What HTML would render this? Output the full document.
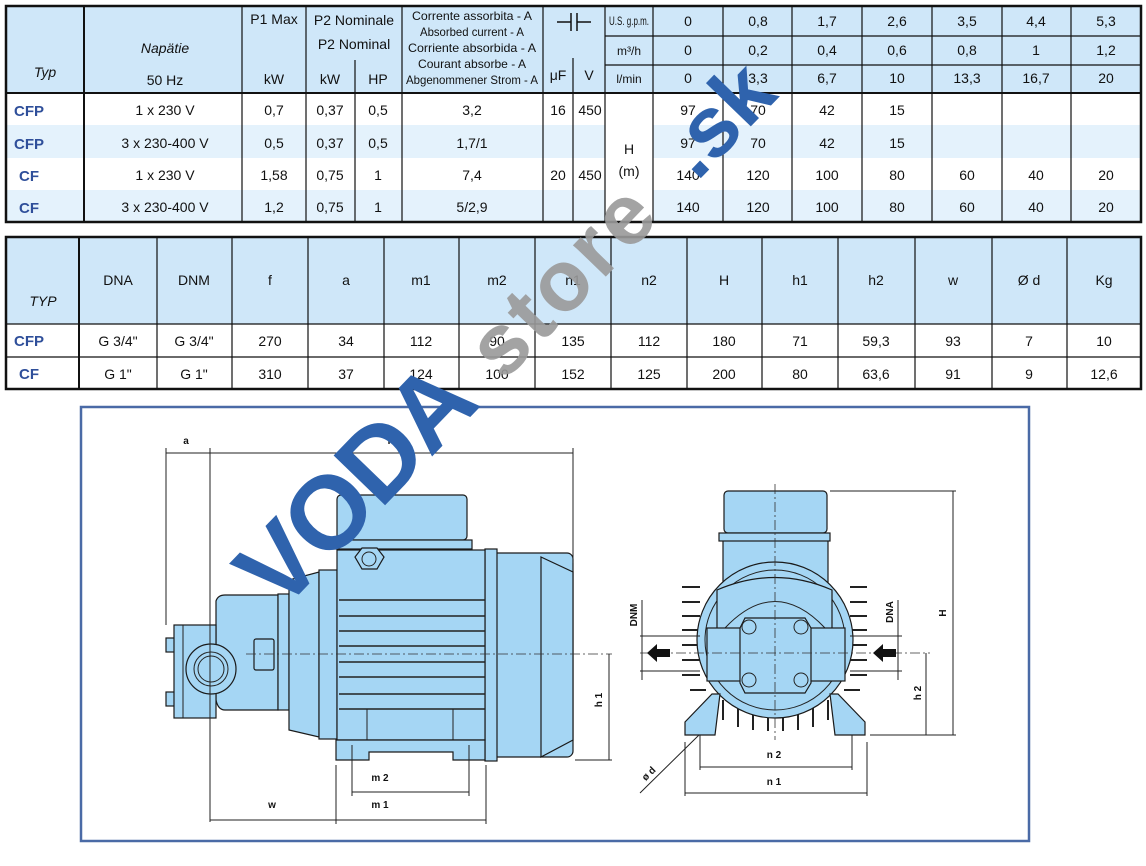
<!DOCTYPE html>
<html><head><meta charset="utf-8"><style>
html,body{margin:0;padding:0;background:#fff;width:1146px;height:866px;overflow:hidden}
svg{display:block}
.t{font-family:"Liberation Sans",sans-serif;font-size:14px;fill:#111;text-anchor:middle}
.h{font-family:"Liberation Sans",sans-serif;font-size:14px;fill:#111;text-anchor:middle}
.s{font-family:"Liberation Sans",sans-serif;font-size:12px;fill:#111;text-anchor:middle}
.ty{font-family:"Liberation Sans",sans-serif;font-size:15px;font-weight:bold;fill:#2f4f9a;text-anchor:middle}
.d{font-family:"Liberation Sans",sans-serif;font-size:10px;font-weight:bold;fill:#111;text-anchor:middle}
.p{fill:#a5d6f4;stroke:#1a1a1a;stroke-width:1.2}
.l{stroke:#222;stroke-width:1;fill:none}
.c{stroke:#333;stroke-width:0.8;fill:none;stroke-dasharray:10 3 2 3}
</style></head><body>
<svg width="1146" height="866" viewBox="0 0 1146 866" xmlns="http://www.w3.org/2000/svg">
<!-- TABLE 1 -->
<rect x="6" y="6" width="1135" height="87" fill="#cfe7f9"/>
<rect x="6" y="125" width="1135" height="33" fill="#e4f2fc"/>
<rect x="6" y="190" width="1135" height="32" fill="#e4f2fc"/>
<rect x="605" y="93" width="48" height="129" fill="#fff"/>
<g stroke="#111" stroke-width="1.2">
<line x1="84" y1="6" x2="84" y2="222" stroke-width="2"/>
<line x1="242" y1="6" x2="242" y2="222"/>
<line x1="306" y1="6" x2="306" y2="222"/>
<line x1="355" y1="60" x2="355" y2="222"/>
<line x1="402" y1="6" x2="402" y2="222"/>
<line x1="543" y1="6" x2="543" y2="222"/>
<line x1="573" y1="58" x2="573" y2="222"/>
<line x1="605" y1="6" x2="605" y2="222"/>
<line x1="653" y1="6" x2="653" y2="222"/>
<line x1="723" y1="6" x2="723" y2="222"/><line x1="792" y1="6" x2="792" y2="222"/><line x1="862" y1="6" x2="862" y2="222"/><line x1="932" y1="6" x2="932" y2="222"/><line x1="1002" y1="6" x2="1002" y2="222"/><line x1="1071" y1="6" x2="1071" y2="222"/>
<line x1="605" y1="36" x2="1141" y2="36"/><line x1="605" y1="65" x2="1141" y2="65"/>
<line x1="6" y1="93" x2="1141" y2="93" stroke-width="2"/>
<rect x="6" y="6" width="1135" height="216" fill="none" stroke-width="2.5"/>
</g>
<text class="h" x="45" y="77" font-style="italic">Typ</text>
<text class="h" x="165" y="53" font-style="italic" font-size="16">Napätie</text>
<text class="h" x="165" y="85">50 Hz</text>
<text class="h" x="274" y="24">P1 Max</text><text class="h" x="274" y="84">kW</text>
<text class="h" x="354" y="25">P2 Nominale</text><text class="h" x="354" y="49">P2 Nominal</text>
<text class="h" x="330" y="84">kW</text><text class="h" x="378" y="84">HP</text>
<g class="s">
<text x="472" y="20" textLength="120" lengthAdjust="spacingAndGlyphs">Corrente assorbita - A</text>
<text x="472" y="36" textLength="104" lengthAdjust="spacingAndGlyphs">Absorbed current - A</text>
<text x="472" y="52" textLength="128" lengthAdjust="spacingAndGlyphs">Corriente absorbida - A</text>
<text x="472" y="68" textLength="108" lengthAdjust="spacingAndGlyphs">Courant absorbe - A</text>
<text x="472" y="84" textLength="132" lengthAdjust="spacingAndGlyphs">Abgenommener Strom - A</text></g>
<g stroke="#111" stroke-width="1.5"><line x1="557" y1="22" x2="571" y2="22"/><line x1="571" y1="13" x2="571" y2="31"/><line x1="577" y1="13" x2="577" y2="31"/><line x1="577" y1="22" x2="591" y2="22"/></g>
<text class="h" x="558" y="80">μF</text><text class="h" x="589" y="80">V</text>
<text class="s" x="629" y="25" font-size="10" textLength="40" lengthAdjust="spacingAndGlyphs">U.S. g.p.m.</text><text class="s" x="629" y="55">m³/h</text><text class="s" x="629" y="83">l/min</text>
<g class="t">
<text x="688" y="26">0</text><text x="758" y="26">0,8</text><text x="827" y="26">1,7</text><text x="897" y="26">2,6</text><text x="967" y="26">3,5</text><text x="1036" y="26">4,4</text><text x="1106" y="26">5,3</text>
<text x="688" y="55">0</text><text x="758" y="55">0,2</text><text x="827" y="55">0,4</text><text x="897" y="55">0,6</text><text x="967" y="55">0,8</text><text x="1036" y="55">1</text><text x="1106" y="55">1,2</text>
<text x="688" y="83">0</text><text x="758" y="83">3,3</text><text x="827" y="83">6,7</text><text x="897" y="83">10</text><text x="967" y="83">13,3</text><text x="1036" y="83">16,7</text><text x="1106" y="83">20</text>
</g>
<g class="ty"><text x="29" y="116">CFP</text><text x="29" y="149">CFP</text><text x="29" y="181">CF</text><text x="29" y="213">CF</text></g>
<g class="t">
<text x="165" y="115">1 x 230 V</text><text x="274" y="115">0,7</text><text x="330" y="115">0,37</text><text x="378" y="115">0,5</text><text x="472" y="115">3,2</text><text x="558" y="115">16</text><text x="590" y="115">450</text>
<text x="688" y="115">97</text><text x="758" y="115">70</text><text x="827" y="115">42</text><text x="897" y="115">15</text>
<text x="165" y="148">3 x 230-400 V</text><text x="274" y="148">0,5</text><text x="330" y="148">0,37</text><text x="378" y="148">0,5</text><text x="472" y="148">1,7/1</text>
<text x="688" y="148">97</text><text x="758" y="148">70</text><text x="827" y="148">42</text><text x="897" y="148">15</text>
<text x="165" y="180">1 x 230 V</text><text x="274" y="180">1,58</text><text x="330" y="180">0,75</text><text x="378" y="180">1</text><text x="472" y="180">7,4</text><text x="558" y="180">20</text><text x="590" y="180">450</text>
<text x="688" y="180">140</text><text x="758" y="180">120</text><text x="827" y="180">100</text><text x="897" y="180">80</text><text x="967" y="180">60</text><text x="1036" y="180">40</text><text x="1106" y="180">20</text>
<text x="165" y="212">3 x 230-400 V</text><text x="274" y="212">1,2</text><text x="330" y="212">0,75</text><text x="378" y="212">1</text><text x="472" y="212">5/2,9</text>
<text x="688" y="212">140</text><text x="758" y="212">120</text><text x="827" y="212">100</text><text x="897" y="212">80</text><text x="967" y="212">60</text><text x="1036" y="212">40</text><text x="1106" y="212">20</text>
</g>
<text class="h" x="629" y="154" font-size="15">H</text><text class="h" x="629" y="176" font-size="15">(m)</text>

<!-- TABLE 2 -->
<rect x="6" y="237" width="1135" height="87" fill="#cfe7f9"/>
<g stroke="#111" stroke-width="1.2">
<line x1="79" y1="237" x2="79" y2="389" stroke-width="2"/>
<line x1="157" y1="237" x2="157" y2="389"/><line x1="232" y1="237" x2="232" y2="389"/><line x1="308" y1="237" x2="308" y2="389"/><line x1="384" y1="237" x2="384" y2="389"/><line x1="459" y1="237" x2="459" y2="389"/><line x1="535" y1="237" x2="535" y2="389"/><line x1="611" y1="237" x2="611" y2="389"/><line x1="687" y1="237" x2="687" y2="389"/><line x1="762" y1="237" x2="762" y2="389"/><line x1="838" y1="237" x2="838" y2="389"/><line x1="915" y1="237" x2="915" y2="389"/><line x1="992" y1="237" x2="992" y2="389"/><line x1="1067" y1="237" x2="1067" y2="389"/>
<line x1="6" y1="324" x2="1141" y2="324"/><line x1="6" y1="357" x2="1141" y2="357"/>
<rect x="6" y="237" width="1135" height="152" fill="none" stroke-width="2.5"/>
</g>
<text class="h" x="43" y="306" font-style="italic">TYP</text>
<g class="h"><text x="118" y="285">DNA</text><text x="194" y="285">DNM</text><text x="270" y="285">f</text><text x="346" y="285">a</text><text x="421" y="285">m1</text><text x="497" y="285">m2</text><text x="573" y="285">n1</text><text x="649" y="285">n2</text><text x="724" y="285">H</text><text x="800" y="285">h1</text><text x="876" y="285">h2</text><text x="953" y="285">w</text><text x="1029" y="285">Ø d</text><text x="1104" y="285">Kg</text></g>
<g class="ty"><text x="29" y="346">CFP</text><text x="29" y="379">CF</text></g>
<g class="t">
<text x="118" y="346">G 3/4"</text><text x="194" y="346">G 3/4"</text><text x="270" y="346">270</text><text x="346" y="346">34</text><text x="421" y="346">112</text><text x="497" y="346">90</text><text x="573" y="346">135</text><text x="649" y="346">112</text><text x="724" y="346">180</text><text x="800" y="346">71</text><text x="876" y="346">59,3</text><text x="953" y="346">93</text><text x="1029" y="346">7</text><text x="1104" y="346">10</text>
<text x="118" y="379">G 1"</text><text x="194" y="379">G 1"</text><text x="270" y="379">310</text><text x="346" y="379">37</text><text x="421" y="379">124</text><text x="497" y="379">100</text><text x="573" y="379">152</text><text x="649" y="379">125</text><text x="724" y="379">200</text><text x="800" y="379">80</text><text x="876" y="379">63,6</text><text x="953" y="379">91</text><text x="1029" y="379">9</text><text x="1104" y="379">12,6</text>
</g>

<!-- DRAWING BOX -->
<rect x="81" y="407" width="948" height="434" fill="none" stroke="#4a6aa6" stroke-width="2.5"/>

<!-- side view -->
<rect class="p" x="487" y="553" width="86" height="204" rx="6"/>
<path class="p" d="M541 557 L573 572 L573 740 L541 757 Z"/>
<rect class="p" x="485" y="549" width="12" height="212"/>
<rect class="p" x="166" y="638" width="10" height="14"/><rect class="p" x="166" y="692" width="10" height="14"/>
<path class="p" d="M216 601 Q218 595 225 595 L278 595 L278 710 L225 710 Q218 710 216 700 Z"/>
<rect class="p" x="174" y="625" width="42" height="93"/>
<line class="l" x1="183" y1="625" x2="183" y2="718"/>
<rect class="p" x="278" y="594" width="11" height="116"/>
<path class="p" d="M289 580 L319 572 L319 737 L289 730 Z"/>
<rect class="p" x="319" y="570" width="18" height="169"/>
<rect class="p" x="337" y="550" width="148" height="190"/>
<rect class="p" x="337" y="495" width="130" height="45" rx="4"/>
<rect class="p" x="333" y="540" width="139" height="9"/>
<path class="p" d="M362 548 L377 548 L384 557 L377 569 L362 569 L355 557 Z"/>
<circle class="l" cx="369" cy="559" r="7"/>
<g stroke="#222" stroke-width="1.5"><line x1="339" y1="600" x2="485" y2="600"/><line x1="339" y1="616" x2="485" y2="616"/><line x1="339" y1="631" x2="485" y2="631"/><line x1="339" y1="646" x2="485" y2="646"/><line x1="339" y1="662" x2="485" y2="662"/><line x1="339" y1="677" x2="485" y2="677"/><line x1="339" y1="694" x2="485" y2="694"/><line x1="339" y1="709" x2="485" y2="709"/></g>
<line class="l" x1="367" y1="709" x2="367" y2="740"/><line class="l" x1="453" y1="709" x2="453" y2="740"/>
<path class="p" d="M336 740 L485 740 L485 760 L453 760 L453 752 L369 752 L369 760 L336 760 Z"/>
<circle class="p" cx="211" cy="669" r="25"/><circle class="l" cx="211" cy="669" r="17"/><circle class="l" cx="211" cy="669" r="13"/>
<rect class="p" x="254" y="639" width="20" height="31" rx="2"/>
<line class="c" x1="246" y1="654" x2="612" y2="654"/>
<g class="l" stroke-width="0.8">
<line x1="166" y1="453" x2="573" y2="453"/>
<line x1="166" y1="448" x2="166" y2="625"/><line x1="210" y1="448" x2="210" y2="822"/><line x1="573" y1="448" x2="573" y2="563"/>
<line x1="575" y1="760" x2="612" y2="760"/><line x1="609" y1="654" x2="609" y2="760"/>
<line x1="336" y1="765" x2="336" y2="824"/><line x1="352" y1="745" x2="352" y2="796"/><line x1="469" y1="745" x2="469" y2="796"/><line x1="486" y1="765" x2="486" y2="824"/>
<line x1="352" y1="792" x2="469" y2="792"/><line x1="210" y1="820" x2="486" y2="820"/>
</g>
<text class="d" x="186" y="444">a</text><text class="d" x="389" y="444">f</text>
<text class="d" x="380" y="781">m 2</text><text class="d" x="380" y="808">m 1</text><text class="d" x="272" y="808">w</text>
<text class="d" transform="translate(602,700) rotate(-90)">h 1</text>

<!-- front view -->
<g stroke="#222" stroke-width="2">
<line x1="682" y1="587" x2="700" y2="587"/><line x1="682" y1="602" x2="700" y2="602"/><line x1="682" y1="616" x2="700" y2="616"/><line x1="682" y1="630" x2="700" y2="630"/><line x1="682" y1="645" x2="700" y2="645"/><line x1="682" y1="660" x2="700" y2="660"/><line x1="682" y1="675" x2="700" y2="675"/><line x1="690" y1="690" x2="706" y2="690"/>
<line x1="850" y1="587" x2="867" y2="587"/><line x1="850" y1="602" x2="867" y2="602"/><line x1="850" y1="616" x2="867" y2="616"/><line x1="850" y1="630" x2="867" y2="630"/><line x1="850" y1="645" x2="867" y2="645"/><line x1="850" y1="660" x2="867" y2="660"/><line x1="850" y1="675" x2="867" y2="675"/><line x1="844" y1="690" x2="860" y2="690"/>
<line x1="723" y1="700" x2="723" y2="720"/><line x1="738" y1="705" x2="738" y2="727"/><line x1="753" y1="708" x2="753" y2="730"/><line x1="768" y1="710" x2="768" y2="731"/><line x1="783" y1="710" x2="783" y2="731"/><line x1="798" y1="708" x2="798" y2="730"/><line x1="813" y1="705" x2="813" y2="727"/><line x1="828" y1="700" x2="828" y2="720"/>
</g>
<rect class="p" x="723" y="540" width="105" height="50"/>
<circle class="p" cx="775" cy="640" r="78"/>
<circle class="l" cx="775" cy="640" r="70"/>
<path class="p" d="M685 722 L712 694 L720 694 L715 735 L685 735 Z"/>
<path class="p" d="M865 722 L838 694 L830 694 L835 735 L865 735 Z"/>
<path class="p" d="M717 590 Q775 565 832 590 L832 660 L717 660 Z"/>
<path class="l" d="M725 628 Q775 575 825 628"/>
<rect class="p" x="707" y="628" width="138" height="53"/>
<path class="p" d="M745 618 L805 618 L811 628 L811 683 L805 693 L745 693 L740 683 L740 628 Z"/>
<circle class="l" cx="749" cy="627" r="7"/><circle class="l" cx="801" cy="627" r="7"/><circle class="l" cx="749" cy="680" r="7"/><circle class="l" cx="801" cy="680" r="7"/>
<rect class="p" x="724" y="491" width="103" height="42" rx="4"/>
<rect class="p" x="719" y="533" width="111" height="8"/>
<line class="c" x1="775" y1="484" x2="775" y2="740"/>
<line class="c" x1="640" y1="653" x2="930" y2="653"/>
<path d="M647 653 L657 644 L657 649 L670 649 L670 657 L657 657 L657 662 Z" fill="#111"/>
<path d="M873 653 L883 644 L883 649 L896 649 L896 657 L883 657 L883 662 Z" fill="#111"/>
<g class="l" stroke-width="0.8">
<line x1="640" y1="636" x2="700" y2="636"/><line x1="640" y1="671" x2="700" y2="671"/><line x1="642" y1="600" x2="642" y2="680"/>
<line x1="850" y1="636" x2="902" y2="636"/><line x1="850" y1="671" x2="902" y2="671"/><line x1="898" y1="600" x2="898" y2="680"/>
<line x1="830" y1="491" x2="956" y2="491"/><line x1="953" y1="491" x2="953" y2="735"/>
<line x1="870" y1="735" x2="956" y2="735"/><line x1="926" y1="653" x2="926" y2="735"/>
<line x1="700" y1="735" x2="700" y2="770"/><line x1="852" y1="735" x2="852" y2="770"/><line x1="685" y1="742" x2="685" y2="796"/><line x1="867" y1="742" x2="867" y2="796"/>
<line x1="700" y1="767" x2="852" y2="767"/><line x1="685" y1="793" x2="867" y2="793"/>
<line x1="699" y1="735" x2="640" y2="793"/>
</g>
<text class="d" transform="translate(637,615) rotate(-90)">DNM</text>
<text class="d" transform="translate(893,612) rotate(-90)">DNA</text>
<text class="d" transform="translate(946,613) rotate(-90)">H</text>
<text class="d" transform="translate(921,693) rotate(-90)">h 2</text>
<text class="d" transform="translate(651,776) rotate(-45)">ø d</text>
<text class="d" x="774" y="758">n 2</text><text class="d" x="774" y="785">n 1</text>

<!-- watermark -->
<g transform="translate(280,614) rotate(-46)" font-family="Liberation Sans,sans-serif" font-weight="bold">
<text x="0" y="0" font-size="104" fill="#2f63ad" letter-spacing="-3">VODA</text>
<text x="322" y="0" font-size="86" fill="#9a9a9a" opacity="0.9" letter-spacing="4">store</text>
<text x="600" y="0" font-size="86" fill="#2f63ad">.sk</text>
</g>
</svg>
</body></html>
